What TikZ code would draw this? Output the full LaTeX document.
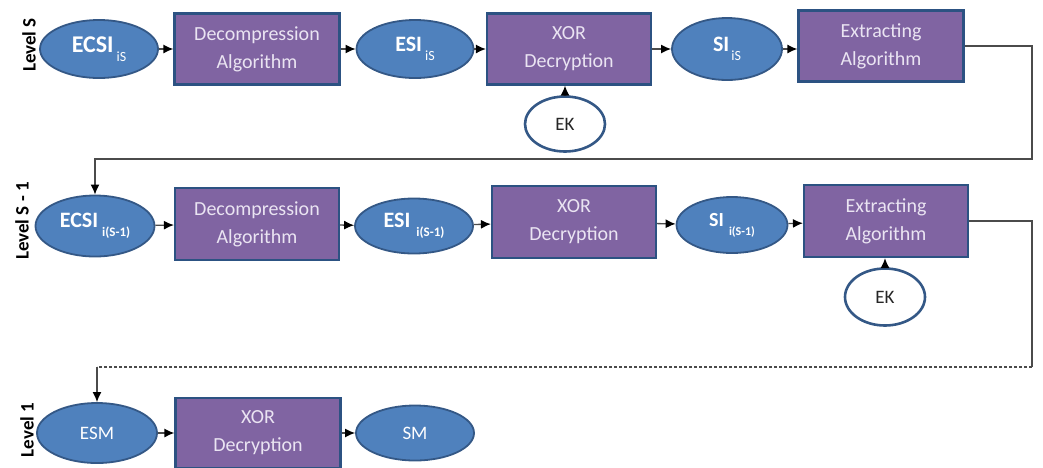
\documentclass[tikz,border=0pt]{standalone}
\usepackage{fontspec}
\setmainfont{Carlito}
\usetikzlibrary{arrows.meta,shapes.geometric}
\definecolor{ellfill}{RGB}{79,129,189}
\definecolor{ellline}{RGB}{52,88,134}
\definecolor{boxfill}{RGB}{128,100,162}
\definecolor{boxline}{RGB}{44,82,130}
\definecolor{boxtext}{RGB}{234,228,242}
\definecolor{wire}{RGB}{75,75,75}
\definecolor{keytext}{RGB}{38,38,38}
% data label: bold main text with a lowered index
\newcommand\datalabel[5]{{\fontsize{#1}{#1}\selectfont\bfseries #2}\hspace{#5}\raisebox{-9pt}{\fontsize{#3}{#3}\selectfont #4}}
\begin{document}
\begin{tikzpicture}[x=1pt,y=-1pt,
  proc/.style={rectangle, draw=boxline, line width=2.2pt, fill=boxfill,
    text=boxtext, minimum width=165pt, minimum height=71pt, inner sep=0pt,
    align=center, font=\fontsize{20}{28}\selectfont},
  data/.style={ellipse, draw=ellline, line width=1.8pt, fill=ellfill,
    text=white, inner sep=0pt, minimum width=118pt, minimum height=58pt},
  keynode/.style={ellipse, draw=ellline, line width=2.6pt, fill=white,
    text=keytext, minimum width=80pt, minimum height=55pt, inner sep=0pt,
    font=\fontsize{19}{19}\selectfont},
  level/.style={rotate=90, text=black, font=\fontsize{19}{19}\selectfont\bfseries},
  flow/.style={draw=wire, line width=1.3pt, -{Latex[length=10pt,width=9pt,color=black]}},
  wireline/.style={draw=wire, line width=1.3pt}
]
\useasboundingbox (0,0) rectangle (1043,467);

% level captions
\node[level] (lvS)  at (29,45)  {Level S};
\node[level] (lvS1) at (22,221) {Level S - 1};
\node[level] (lv1)  at (27,430) {Level 1};

% ---- level S ----
\node[data] (e1) at (99,49) {\datalabel{24}{ECSI}{14}{iS}{3pt}};
\node[proc] (d1) at (257,49) {Decompression\\Algorithm};
\node[data, minimum width=117pt] (s1) at (415,49) {\datalabel{22}{ESI}{14}{iS}{3pt}};
\node[proc, minimum width=164pt] (x1) at (569,49) {XOR\\Decryption};
\node[data, minimum width=110pt, minimum height=62pt] (si1) at (727,49) {\datalabel{22}{SI}{14}{iS}{2pt}};
\node[proc] (ex1) at (881,46) {Extracting\\Algorithm};
\node[keynode] (ek1) at (565,124) {EK};

\draw[flow] (e1) -- (d1);
\draw[flow] (d1) -- (s1);
\draw[flow] (s1) -- (x1);
\draw[flow] (x1) -- (si1);
\draw[flow] (si1.east) -- (si1.east -| ex1.west);
\draw[flow] (ek1.north) -- (ek1.north |- x1.south);

% ---- level S - 1 ----
\node[data, minimum width=119pt, minimum height=61pt] (e2) at (95,226)
  {\datalabel{22}{ECSI}{13}{\bfseries i(S-1)}{4pt}};
\node[proc, minimum width=164pt, minimum height=72pt] (d2) at (257,224) {Decompression\\Algorithm};
\node[data, minimum height=55pt] (s2) at (414,226)
  {\datalabel{22}{ESI}{13}{\bfseries i(S-1)}{6pt}};
\node[proc, minimum width=164pt, minimum height=72pt] (x2) at (574,222) {XOR\\Decryption};
\node[data, minimum width=111pt, minimum height=56pt] (si2) at (732,225)
  {\datalabel{20}{SI}{12}{\bfseries i(S-1)}{5pt}};
\node[proc, minimum width=164pt, minimum height=72pt] (ex2) at (886,221) {Extracting\\Algorithm};
\node[keynode, minimum height=57pt] (ek2) at (885,297) {EK};

\coordinate (r1) at (1032,159);
\draw[flow] (ex1.east) -| (r1) -| (e2.north);

\draw[flow] (e2) -- (d2);
\draw[flow] (d2) -- (s2);
\draw[flow] (s2) -- (x2);
\draw[flow] (x2) -- (si2);
\draw[flow] (si2) -- (ex2);
\draw[flow] (ek2.north) -- (ek2.north |- ex2.south);

% ---- level 1 ----
\node[data, minimum width=120pt, minimum height=60pt, font=\fontsize{19}{19}\selectfont] (e3) at (97,433) {ESM};
\node[proc, minimum height=70pt] (x3) at (258,433) {XOR\\Decryption};
\node[data, minimum height=55pt, font=\fontsize{19}{19}\selectfont] (sm) at (415,433) {SM};

\coordinate (r2) at (1032,367);
\coordinate (l2) at (e3.north |- r2);
\draw[wireline] (ex2.east) -| (r2);
\draw[wireline, dash pattern=on 3pt off 2pt] (r2) -- (l2);
\draw[flow] (l2) -- (e3.north);

\draw[flow] (e3) -- (x3);
\draw[flow] (x3) -- (sm);
\end{tikzpicture}
\end{document}
